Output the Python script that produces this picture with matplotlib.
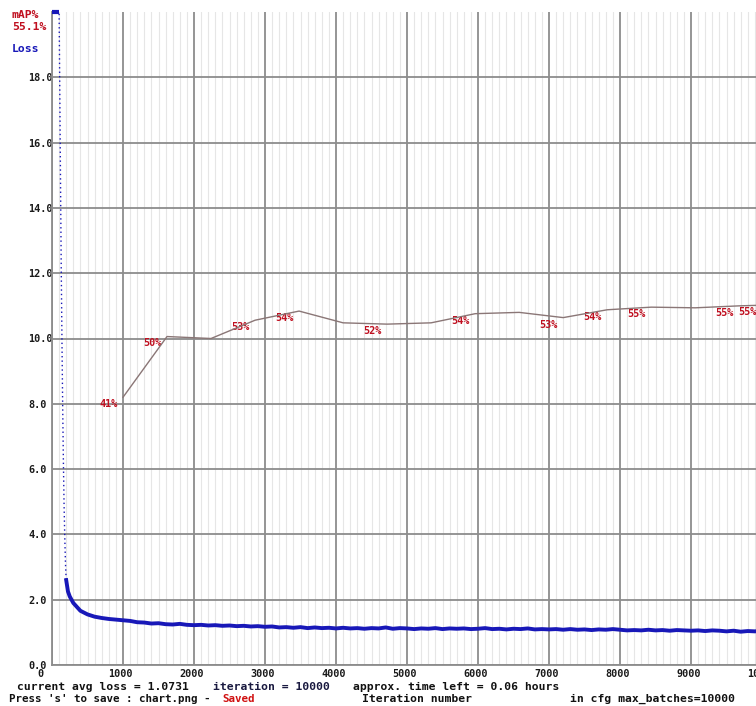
import numpy as np
import matplotlib.pyplot as plt
from matplotlib.ticker import MultipleLocator
from matplotlib.transforms import ScaledTranslation

# loss curve (values above 20 are clipped at the top of the chart, like darknet does)
loss_iters = [0, 20, 40, 60, 80, 100, 110, 120, 130, 140, 150, 160, 170, 180, 190, 200,
              225, 250, 300, 350, 400, 500, 600, 700, 800, 900]
loss_vals = [24.0, 23.0, 22.5, 22.0, 21.0, 20.3, 17.5, 14.8, 12.2, 10.0, 8.0, 6.3, 4.9, 3.9, 3.1, 2.6,
             2.25, 2.1, 1.9, 1.78, 1.66, 1.55, 1.48, 1.44, 1.41, 1.39]
loss_iters += list(range(1000, 10001, 100))
loss_vals += [1.37, 1.35, 1.31, 1.30, 1.27, 1.28, 1.25, 1.24, 1.26, 1.23,
              1.22, 1.23, 1.21, 1.22, 1.20, 1.21, 1.19, 1.20, 1.18, 1.19,
              1.17, 1.18, 1.15, 1.16, 1.14, 1.16, 1.13, 1.15, 1.13, 1.14,
              1.12, 1.14, 1.12, 1.13, 1.11, 1.13, 1.12, 1.15, 1.11, 1.13,
              1.12, 1.10, 1.12, 1.11, 1.13, 1.10, 1.12, 1.11, 1.12, 1.10,
              1.11, 1.13, 1.10, 1.11, 1.09, 1.11, 1.10, 1.12, 1.09, 1.10,
              1.09, 1.10, 1.08, 1.10, 1.08, 1.09, 1.07, 1.09, 1.08, 1.10,
              1.08, 1.06, 1.07, 1.06, 1.08, 1.06, 1.07, 1.05, 1.07, 1.06,
              1.05, 1.06, 1.04, 1.06, 1.05, 1.03, 1.05, 1.02, 1.04, 1.03,
              1.05]

# mAP@0.5 checkpoints (%)
map_iters = [1000, 1620, 2240, 2860, 3480, 4100, 4720, 5340, 5960, 6580,
             7200, 7820, 8440, 9060, 9680, 10000]
map_vals = [41.0, 50.3, 50.0, 52.8, 54.2, 52.4, 52.2, 52.4, 53.8, 54.0,
            53.2, 54.4, 54.8, 54.7, 55.0, 55.1]
map_labeled = [1000, 1620, 2860, 3480, 4720, 5960, 7200, 7820, 8440, 9680, 10000]

xticks = list(range(0, 10001, 1000))
yticks = np.arange(0, 18.1, 2.0)

mono = "DejaVu Sans Mono"
plt.rcParams["font.family"] = mono
plt.rcParams["font.weight"] = "bold"

W, H = 756, 706
fig = plt.figure(figsize=(W / 100, H / 100), dpi=100)
fig.patch.set_facecolor("white")
# axes: x from pixel 52 (iter 0) to 762 (iter 10000), y from 665 (0) to 12 (20)
ax = fig.add_axes([52 / W, 41 / H, 710 / W, 653 / H])
ax.set_xlim(0, 10000)
ax.set_ylim(0, 20)

ax.xaxis.set_minor_locator(MultipleLocator(100))
ax.grid(which="minor", axis="x", color="#e6e6e6", lw=0.8)
ax.grid(which="major", color="#8c8c8c", lw=1.3)
ax.set_axisbelow(True)

for s in ["top", "right"]:
    ax.spines[s].set_visible(False)
for s in ["left", "bottom"]:
    ax.spines[s].set_color("#8c8c8c")
    ax.spines[s].set_linewidth(1.3)

ax.set_xticks(xticks)
ax.set_xticklabels([str(t) for t in xticks])
ax.set_yticks(yticks)
ax.set_yticklabels([f"{t:.1f}" for t in yticks])
ax.tick_params(which="both", length=0)
ax.tick_params(axis="y", pad=17, labelsize=7.3, labelcolor="#1a1a1a")
ax.tick_params(axis="x", pad=3, labelsize=7.3, labelcolor="#1a1a1a")
for lab in ax.get_yticklabels():
    lab.set_ha("left")
off = ScaledTranslation(-15 / 100, 0, fig.dpi_scale_trans)
for lab in ax.get_xticklabels():
    lab.set_ha("left")
    lab.set_transform(lab.get_transform() + off)

# loss
li = np.array(loss_iters)
lv = np.clip(np.array(loss_vals), 0, 20)
blue = "#1818b8"
ax.plot(li, lv, color=blue, lw=1.0, ls=(0, (1, 2.2)), zorder=3)
top = li <= 100
ax.plot(li[top], lv[top], color=blue, lw=3, solid_capstyle="butt", zorder=3, clip_on=False)
low = li >= 200
ax.plot(li[low], lv[low], color=blue, lw=2.8, zorder=3)

# mAP on 0-100 scale
ax2 = ax.twinx()
ax2.set_ylim(0, 100)
ax2.axis("off")
ax2.plot(map_iters, map_vals, color="#8a7676", lw=1.0, zorder=4)
red = "#c01020"
for it, v in zip(map_iters, map_vals):
    if it in map_labeled:
        ax2.annotate(f"{v:.0f}%", (it, v), xytext=(-17, -5), textcoords="offset points",
                     ha="left", va="center", fontsize=7.3, color=red, annotation_clip=False)

# header and footer texts (pixel coordinates)
def ftext(x, y, s, color="#111111", size=8.2):
    fig.text(x / W, 1 - y / H, s, color=color, fontsize=size, ha="left", va="center")

ftext(12, 15, "mAP%", red)
ftext(12, 27, f"{map_vals[-1]:.1f}%", red)
ftext(12, 49, "Loss", blue)
ftext(17, 687, "current avg loss = 1.0731")
ftext(213, 687, "iteration = 10000", "#1a1a40")
ftext(353, 687, "approx. time left = 0.06 hours")
ftext(9, 699, "Press 's' to save : chart.png -", size=7.8)
ftext(222, 699, "Saved", "#d01010", size=7.8)
ftext(362, 699, "Iteration number")
ftext(570, 699, "in cfg max_batches=10000")

fig.savefig("out.png", dpi=100)
